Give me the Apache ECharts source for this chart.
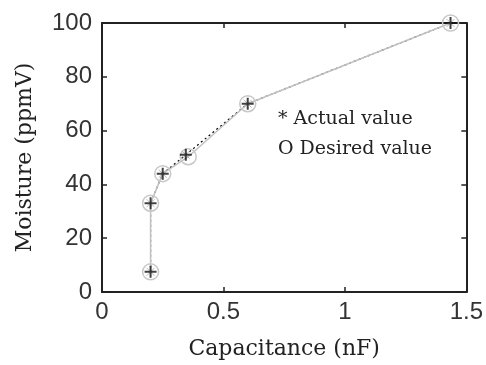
<!DOCTYPE html>
<html>
<head>
<meta charset="utf-8">
<script src="https://cdn.jsdelivr.net/npm/echarts@6/dist/echarts.min.js"></script>
<style>
  html, body { margin: 0; padding: 0; background: #fff; }
  #chart { width: 486px; height: 365px; }
</style>
</head>
<body>
<div id="chart"></div>
<script>
// Desired moisture vs. capacitance
const desiredCap = [0.20, 0.20, 0.25, 0.355, 0.60, 1.435];
const desiredMoist = [7.5, 33, 44, 50.3, 70, 100];
// Measured (actual) moisture vs. capacitance
const actualCap = [0.20, 0.20, 0.25, 0.345, 0.60, 1.435];
const actualMoist = [7.5, 33, 44, 51, 70, 100];

const xTicks = { min: 0, max: 1.5, interval: 0.5 };
const yTicks = { min: 0, max: 100, interval: 20 };

const legendLines = ['* Actual value', 'O Desired value'];

const pair = (xs, ys) => xs.map((x, i) => [x, ys[i]]);

const tickFont = { fontFamily: 'Liberation Sans', fontSize: 24, color: '#333' };
const serif = 'DejaVu Serif';
const frame = { show: true, onZero: false, lineStyle: { color: '#222', width: 2 } };
const ticksIn = { show: true, inside: true, length: 5, lineStyle: { color: '#222', width: 1.5 } };

// the "*" marker: a bold plus with faint diagonals
const plusPath = 'path://M5,0 L5,10 M0,5 L10,5';
const crossPath = 'path://M0,0 L10,10 M10,0 L0,10';

const chart = echarts.init(document.getElementById('chart'));
chart.setOption({
  animation: false,
  backgroundColor: '#fff',
  grid: { left: 102, right: 17, top: 23, bottom: 69 },
  xAxis: [
    {
      type: 'value', ...xTicks,
      name: 'Capacitance (nF)', nameLocation: 'middle', nameGap: 46,
      nameTextStyle: { fontFamily: serif, fontSize: 22, color: '#222' },
      axisLine: frame, axisTick: ticksIn,
      axisLabel: { ...tickFont, margin: 8 },
      splitLine: { show: false }
    },
    {
      type: 'value', ...xTicks, position: 'top',
      axisLine: frame, axisTick: ticksIn,
      axisLabel: { show: false }, splitLine: { show: false }
    }
  ],
  yAxis: [
    {
      type: 'value', ...yTicks,
      name: 'Moisture (ppmV)', nameLocation: 'middle', nameGap: 66,
      nameTextStyle: { fontFamily: serif, fontSize: 22, color: '#222' },
      axisLine: frame, axisTick: ticksIn,
      axisLabel: { ...tickFont, margin: 10 },
      splitLine: { show: false }
    },
    {
      type: 'value', ...yTicks, position: 'right',
      axisLine: frame, axisTick: ticksIn,
      axisLabel: { show: false }, splitLine: { show: false }
    }
  ],
  series: [
    {
      name: 'Actual value (line)',
      type: 'line',
      data: pair(actualCap, actualMoist),
      showSymbol: false,
      lineStyle: { color: '#000', width: 1.2, type: [2, 3] },
      z: 2
    },
    {
      name: 'Desired value',
      type: 'line',
      data: pair(desiredCap, desiredMoist),
      symbol: 'circle', symbolSize: 16,
      itemStyle: { color: 'rgba(255,255,255,0)', borderColor: '#c8c8c8', borderWidth: 1.5 },
      lineStyle: { color: '#c0c0c0', width: 1.5 },
      z: 3
    },
    {
      name: 'Actual value (diagonals)',
      type: 'scatter',
      data: pair(actualCap, actualMoist),
      symbol: crossPath, symbolSize: 8,
      itemStyle: { color: 'rgba(0,0,0,0)', borderColor: '#aaa', borderWidth: 1 },
      z: 4
    },
    {
      name: 'Actual value',
      type: 'scatter',
      data: pair(actualCap, actualMoist),
      symbol: plusPath, symbolSize: 12,
      itemStyle: { color: 'rgba(0,0,0,0)', borderColor: '#111', borderWidth: 2 },
      z: 5
    }
  ],
  graphic: legendLines.map((t, i) => ({
    type: 'text',
    left: 278, top: 110 + i * 30,
    style: { text: t, fontFamily: serif, fontSize: 19, fill: '#222' }
  }))
});
</script>
</body>
</html>
